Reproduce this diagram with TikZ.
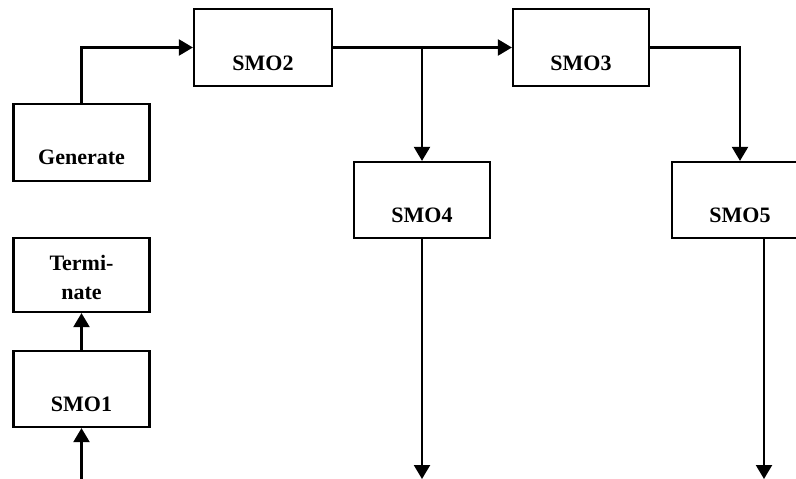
\documentclass[tikz,border=0pt]{standalone}
\usepackage{fontspec}
\setmainfont{Liberation Serif}
\usetikzlibrary{arrows.meta}
\begin{document}
\begin{tikzpicture}[x=1pt,y=-1pt,
  box/.style={draw,line width=2.2pt,minimum width=136pt,inner sep=0pt},
  lbl/.style={font=\fontsize{22}{29}\selectfont\bfseries,inner sep=0pt,align=center},
  arr/.style={line width=2.2pt,-{Triangle[width=16pt,length=14pt]}},
  ln/.style={line width=2.2pt}]
\useasboundingbox (0,0) rectangle (796,479);
\begin{scope}
\clip (0,0) rectangle (796,479);
% boxes
\node[box,minimum height=77pt] (gen) at (81.5,142.5) {};
\node[lbl] (gent) at (81.5,157) {Generate};
\node[box,minimum height=74pt] (term) at (81.5,275) {};
\node[lbl] (termt) at (81.5,277) {Termi-\\nate};
\node[box,minimum height=76pt] (s1) at (81.5,389) {};
\node[lbl] (s1t) at (81.5,404) {SMO1};
\node[box,minimum height=77pt,minimum width=138pt] (s2) at (263,47.5) {};
\node[lbl] (s2t) at (263,63) {SMO2};
\node[box,minimum height=77pt] (s3) at (581,47.5) {};
\node[lbl] (s3t) at (581,63) {SMO3};
\node[box,minimum height=76pt] (s4) at (422,200) {};
\node[lbl] (s4t) at (422,215) {SMO4};
\node[box,minimum height=76pt] (s5) at (740,200) {};
\node[lbl] (s5t) at (740,215) {SMO5};
% free ends
\coordinate (b1) at (81.5,479);
\coordinate (b4) at (422,479);
\coordinate (b5) at (764,479);
\coordinate (j4) at (422,47.5);
% connectors
\draw[arr] (gen.north) |- (s2.west);
\draw[arr] (s2.east) -- (s3.west);
\draw[arr] (j4) -- (s4.north);
\draw[arr] (s3.east) -| (s5.north);
\draw[arr] (s4.south) -- (b4);
\draw[arr] (s5.south -| b5) -- (b5);
\draw[arr] (s1.north) -- (term.south);
\draw[arr] (b1) -- (s1.south);
\end{scope}
\end{tikzpicture}
\end{document}
